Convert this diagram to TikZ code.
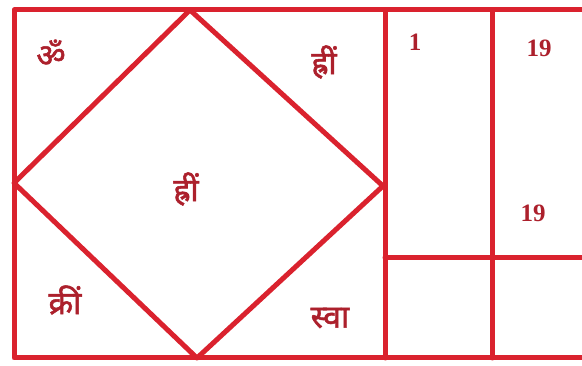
\documentclass[tikz,border=0pt]{standalone}
\usepackage{fontspec}
\setmainfont{Liberation Serif}
\newfontfamily\devfont[Script=Devanagari,FakeBold=1.6]{Noto Sans}
\usetikzlibrary{positioning,calc}
\definecolor{yantrared}{RGB}{218,34,46}
\definecolor{letterred}{RGB}{172,32,44}

\begin{document}
\begin{tikzpicture}[x=1pt,y=-1pt,
  frame/.style={yantrared,line width=5pt,line cap=round,line join=round},
  mantra/.style={text=letterred,font=\devfont\fontsize{32}{36}\selectfont},
  number/.style={text=letterred,font=\bfseries\fontsize{25}{28}\selectfont}]
  \useasboundingbox (0,0) rectangle (582,366);
  % Outer frame and columns
  \draw[frame] (600,10) -- (14,10) -- (14,358) -- (600,358);
  \draw[frame] (385,10) -- (385,358);
  \draw[frame] (492,10) -- (492,358);
  \draw[frame] (385,258) -- (600,258);
  % Diamond
  \coordinate (top) at (190,10);
  \coordinate (right) at (383,186);
  \coordinate (bottom) at (197,358);
  \coordinate (left) at (14,183);
  \draw[frame] (top) -- (right) -- (bottom) -- (left) -- cycle;
  % Syllables
  \node[mantra] (om) at (51,53) {ॐ};
  \node[mantra] (hrimtop) at (324,62) {ह्रीं};
  \node[mantra] (hrimmid) at (186,189) {ह्रीं};
  \node[mantra] (krim) at (65,300) {क्रीं};
  \node[mantra] (swa) at (330,318) {स्वा};
  % Numbers
  \node[number] (one) at (415,42) {1};
  \node[number] (ninetop) at (539,48) {19};
  \node[number] (ninemid) at (533,213) {19};
\end{tikzpicture}
\end{document}
